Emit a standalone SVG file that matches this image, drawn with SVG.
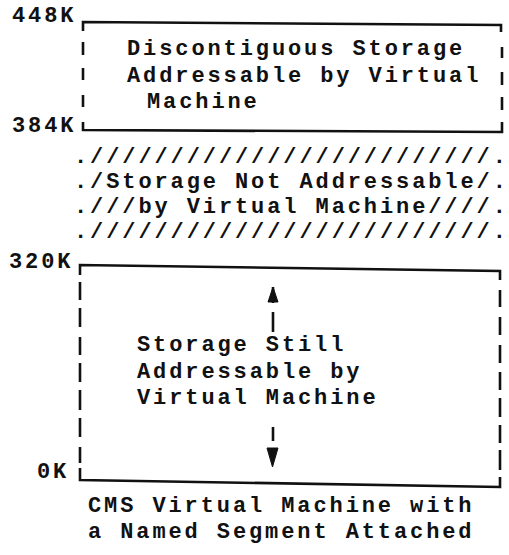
<svg xmlns="http://www.w3.org/2000/svg" width="509" height="555" viewBox="0 0 509 555">
  <style>
    .t { font-family: "Liberation Mono", "DejaVu Sans Mono", monospace; font-size: 22px; font-weight: bold; letter-spacing: 2.9px; fill: #111; }
    .end { letter-spacing: 0; }
    .edge { fill: none; stroke: #111; stroke-width: 2.6; stroke-linecap: butt; stroke-linejoin: miter; }
    .arrow { fill: #111; stroke: #111; stroke-width: 1; }
  </style>
  <rect width="509" height="555" fill="#fff"/>

  <!-- address marks -->
  <g id="addresses">
    <text class="t" x="12" y="22">448K</text>
    <text class="t" x="12" y="132">384K</text>
    <text class="t" x="9" y="268">320K</text>
    <text class="t" x="37" y="478">0K</text>
  </g>

  <!-- 384K-448K: discontiguous storage -->
  <g id="discontiguous-storage">
    <path class="edge" d="M83 31 V22 L501 25 V32"/>
    <path class="edge" d="M83 42 V55 M83 68 V80 M83 95 V107"/>
    <path class="edge" d="M502 47 V58 M502 72 V85 M502 97 V110"/>
    <path class="edge" d="M83 122 V130 L502 132 V122"/>
    <text class="t" x="127" y="55">Discontiguous Storage</text>
    <text class="t" x="127" y="82">Addressable by Virtual</text>
    <text class="t" x="147" y="108">Machine</text>
  </g>

  <!-- 320K-384K: hatched, not addressable -->
  <g id="not-addressable">
    <text class="t" x="74" y="163">./////////////////////////<tspan class="end">.</tspan></text>
    <text class="t" x="74" y="188">./Storage Not Addressable/<tspan class="end">.</tspan></text>
    <text class="t" x="74" y="213">.///by Virtual Machine////<tspan class="end">.</tspan></text>
    <text class="t" x="74" y="238">./////////////////////////<tspan class="end">.</tspan></text>
  </g>

  <!-- 0K-320K: still addressable -->
  <g id="still-addressable">
    <path class="edge" d="M80 275 V265 L500 271 V280"/>
    <path class="edge" d="M80 282 V300 M80 308 V327 M80 337 V355 M80 363 V382 M80 390 V410 M80 418 V437 M80 447 V463"/>
    <path class="edge" d="M500 290 V307 M500 317 V335 M500 345 V363 M500 372 V390 M500 398 V417 M500 425 V443 M500 450 V470"/>
    <path class="edge" d="M80 468 V480 L500 487 V477"/>
    <text class="t" x="137" y="351">Storage Still</text>
    <text class="t" x="137" y="378">Addressable by</text>
    <text class="t" x="137" y="404">Virtual Machine</text>
  </g>

  <!-- up/down extent arrows -->
  <g id="connectors">
    <path class="edge" d="M273 287 V303 M273 312 V332"/>
    <polygon class="arrow" points="273,287 278,302 268,302"/>
    <path class="edge" d="M273 427 V441"/>
    <polygon class="arrow" points="267,448 278,448 272.5,467"/>
  </g>

  <!-- caption -->
  <g id="caption">
    <text class="t" x="88" y="512">CMS Virtual Machine with</text>
    <text class="t" x="88" y="538">a Named Segment Attached</text>
  </g>
</svg>
